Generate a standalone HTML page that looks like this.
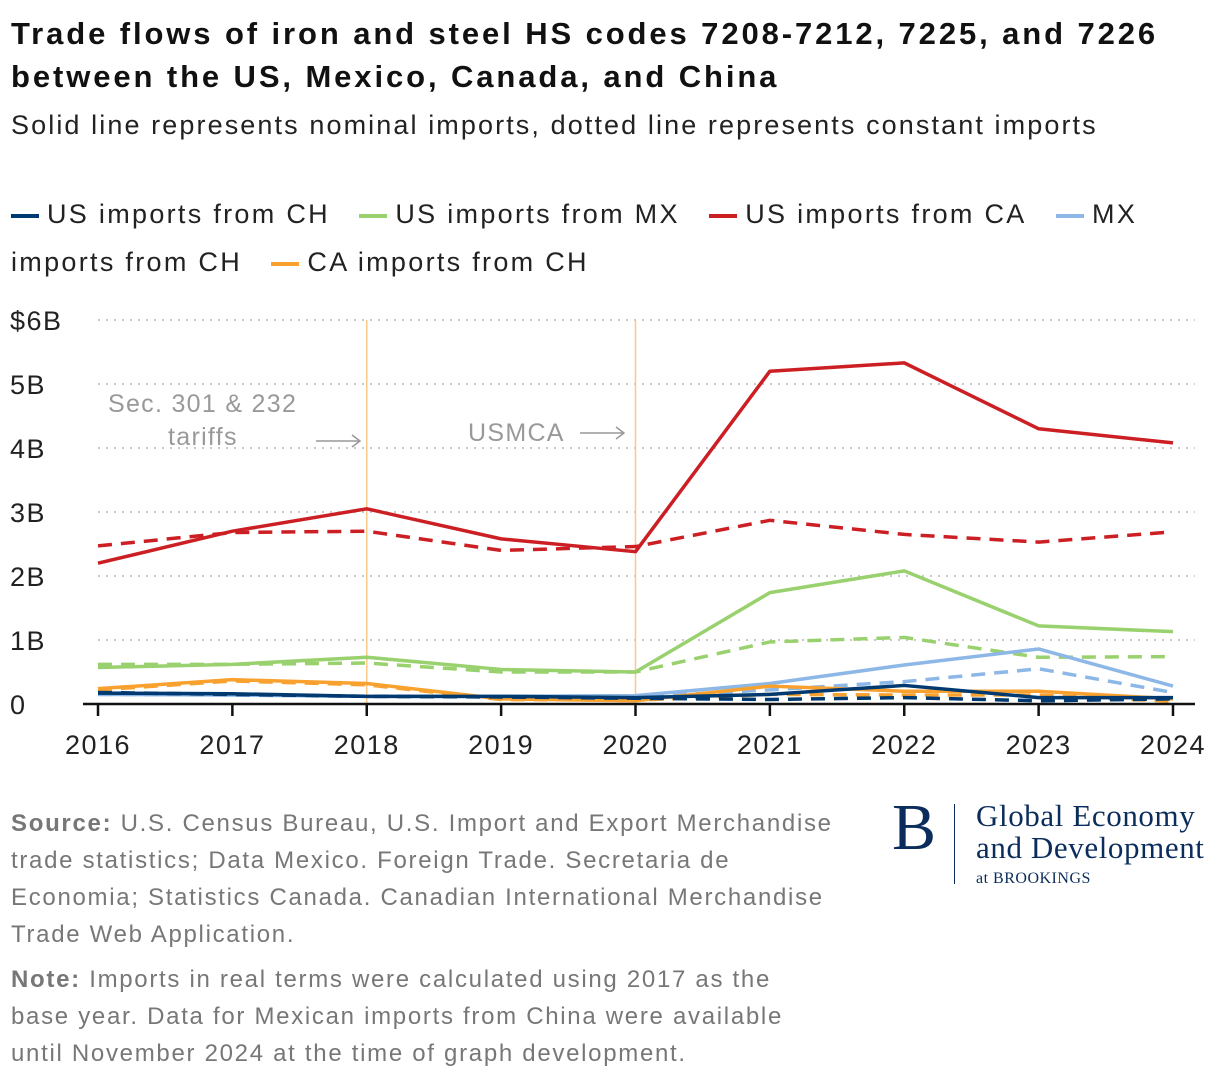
<!DOCTYPE html>
<html><head><meta charset="utf-8"><style>
body{margin:0;background:#fff;font-family:"Liberation Sans",sans-serif;}
#wrap{position:relative;width:1220px;height:1082px;overflow:hidden}
.t{position:absolute;margin:0}
</style></head><body><div id="wrap">
<h1 class="t" style="left:11px;top:12px;font-size:31px;font-weight:bold;line-height:43px;color:#111;width:1200px;letter-spacing:2.9px">Trade flows of iron and steel HS codes 7208-7212, 7225, and 7226 between the US, Mexico, Canada, and China</h1>
<div class="t" style="left:11px;top:110px;font-size:27px;color:#222;letter-spacing:2.1px;white-space:nowrap">Solid line represents nominal imports, dotted line represents constant imports</div>
<div class="t" style="left:11px;top:190px;font-size:27px;line-height:48px;color:#222;width:1200px;letter-spacing:2.3px">
<span><span style="display:inline-block;width:28px;height:4px;background:#003a70;vertical-align:middle;margin-right:8px"></span>US imports from CH</span>&nbsp;&nbsp;
<span><span style="display:inline-block;width:28px;height:4px;background:#9ad16f;vertical-align:middle;margin-right:8px"></span>US imports from MX</span>&nbsp;&nbsp;
<span><span style="display:inline-block;width:28px;height:4px;background:#cc1f24;vertical-align:middle;margin-right:8px"></span>US imports from CA</span>&nbsp;&nbsp;
<span><span style="display:inline-block;width:28px;height:4px;background:#8db7e6;vertical-align:middle;margin-right:8px"></span>MX imports from CH</span>&nbsp;&nbsp;
<span><span style="display:inline-block;width:28px;height:4px;background:#f9a12e;vertical-align:middle;margin-right:8px"></span>CA imports from CH</span>
</div>
<svg id="chart" width="1220" height="780" style="position:absolute;left:0;top:0" font-family="Liberation Sans, sans-serif"></svg>
<div class="t" style="left:11px;top:805px;font-size:24px;line-height:37px;color:#777;width:840px;letter-spacing:1.7px"><b>Source:</b> U.S. Census Bureau, U.S. Import and Export Merchandise trade statistics; Data Mexico. Foreign Trade. Secretaria de Economia; Statistics Canada. Canadian International Merchandise Trade Web Application.</div>
<div class="t" style="left:11px;top:961px;font-size:24px;line-height:37px;color:#777;width:800px;letter-spacing:1.7px"><b>Note:</b> Imports in real terms were calculated using 2017 as the base year. Data for Mexican imports from China were available until November 2024 at the time of graph development.</div>
<div class="t" style="left:892px;top:796px;width:325px;height:100px;color:#0b2d5b;font-family:'Liberation Serif',serif">
<div style="position:absolute;left:0;top:-6px;font-size:66px">B</div>
<div style="position:absolute;left:62px;top:8px;width:1px;height:80px;background:#0b2d5b"></div>
<div style="position:absolute;left:84px;top:4px;font-size:31px;line-height:32px;white-space:nowrap;letter-spacing:0.6px">Global Economy<br>and Development</div>
<div style="position:absolute;left:84px;top:74px;font-size:16px;letter-spacing:0.5px">at BROOKINGS</div>
</div>
</div>
<script>
const years=[2016,2017,2018,2019,2020,2021,2022,2023,2024];
const yTicks=[0,1,2,3,4,5,6];
const yTickLabels=["0","1B","2B","3B","4B","5B","$6B"];
const usCaNom=[2.2,2.7,3.05,2.58,2.38,5.2,5.33,4.3,4.08];
const usCaReal=[2.47,2.68,2.7,2.4,2.46,2.87,2.65,2.53,2.69];
const usMxNom=[0.57,0.62,0.73,0.54,0.5,1.74,2.08,1.22,1.13];
const usMxReal=[0.62,0.62,0.64,0.5,0.5,0.97,1.04,0.73,0.74];
const mxChNom=[0.15,0.14,0.12,0.12,0.13,0.32,0.61,0.86,0.28];
const mxChReal=[0.15,0.14,0.12,0.11,0.11,0.22,0.35,0.55,0.18];
const caChNom=[0.24,0.38,0.32,0.08,0.05,0.28,0.2,0.2,0.08];
const caChReal=[0.22,0.36,0.3,0.07,0.06,0.15,0.14,0.14,0.04];
const usChNom=[0.17,0.16,0.12,0.12,0.1,0.15,0.29,0.1,0.1];
const usChReal=[0.18,0.15,0.12,0.11,0.09,0.07,0.1,0.05,0.08];
const NS="http://www.w3.org/2000/svg",svg=document.getElementById('chart');
const x=y=>98+(y-2016)*(1173-98)/8, yv=v=>704-v*64;
function el(t,a,p){const e=document.createElementNS(NS,t);for(const k in a)e.setAttribute(k,a[k]);(p||svg).appendChild(e);return e;}
yTicks.forEach((t,i)=>{
 if(t>0){const g=el('line',{x1:98,x2:1195,y1:yv(t),y2:yv(t),stroke:'#c8c8c8','stroke-width':2,'stroke-dasharray':'2 6'});
 
 }
 const l=el('text',{x:10,y:yv(t)+10,'font-size':27,fill:'#222','letter-spacing':1.5});l.textContent=yTickLabels[i];
 
 
});
[2018,2020].forEach(yr=>{const r=el('line',{x1:x(yr),x2:x(yr),y1:320,y2:704,stroke:'#f8c98a','stroke-width':1.5});
 
 });
const a1=el('text',{x:108,y:412,'font-size':25,fill:'#999','letter-spacing':1.3});a1.textContent='Sec. 301 & 232';


const a2=el('text',{x:168,y:445,'font-size':25,fill:'#999','letter-spacing':1.3});a2.textContent='tariffs';


const a3=el('text',{x:468,y:441,'font-size':25,fill:'#999','letter-spacing':1.3});a3.textContent='USMCA';


[[316,360,441],[580,624,433]].forEach(p=>{el('path',{d:`M${p[0]} ${p[2]}H${p[1]}M${p[1]-8} ${p[2]-6}L${p[1]} ${p[2]}L${p[1]-8} ${p[2]+6}`,stroke:'#999','stroke-width':1.5,fill:'none'});});
const series=[[usCaReal,'#cc1f24',1],[usCaNom,'#cc1f24',0],[usMxReal,'#9ad16f',1],[usMxNom,'#9ad16f',0],[mxChNom,'#8db7e6',0],[mxChReal,'#8db7e6',1],[caChNom,'#f9a12e',0],[caChReal,'#f9a12e',1],[usChNom,'#003a70',0],[usChReal,'#003a70',1]];
series.forEach(s=>{
 const d=s[0].map((v,i)=>(i?'L':'M')+x(years[i])+' '+yv(v)).join('');
 const p=el('path',{d:d,stroke:s[1],'stroke-width':3.5,fill:'none','stroke-linejoin':'round'});
 if(s[2])p.setAttribute('stroke-dasharray','14 9');
 
 
});
el('line',{x1:83,x2:1195,y1:704,y2:704,stroke:'#111','stroke-width':2.5});
years.forEach(yr=>{el('line',{x1:x(yr),x2:x(yr),y1:704,y2:716,stroke:'#111','stroke-width':2.5});
 const t=el('text',{x:x(yr),y:754,'font-size':27,fill:'#222','text-anchor':'middle','letter-spacing':1.5});t.textContent=yr;
 
 });
</script></body></html>
